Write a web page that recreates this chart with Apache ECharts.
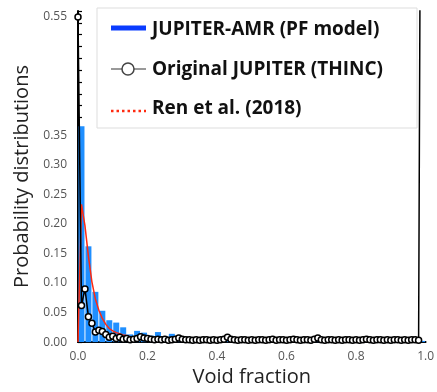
<!DOCTYPE html>
<html><head><meta charset="utf-8">
<script src="https://cdn.jsdelivr.net/npm/echarts@6/dist/echarts.min.js"></script>
<style>html,body{margin:0;padding:0;background:#fff}#c{width:437px;height:392px}</style>
</head><body><div id="c"></div>
<script>
// Blue histogram (JUPITER-AMR, PF model): bin centres and heights
const barX = [0.01,0.03,0.05,0.07,0.09,0.11,0.13,0.15,0.17,0.19,0.21,0.23,0.25,0.27,0.29,0.31,0.33,0.35,0.37,0.39,0.41,0.43,0.45,0.47,0.49,0.51,0.53,0.55,0.57,0.59,0.61,0.63,0.65,0.67,0.69,0.71,0.73,0.75,0.77,0.79,0.81,0.83,0.85,0.87,0.89,0.91,0.93,0.95,0.97,0.99];
const barY = [0.365,0.162,0.085,0.053,0.037,0.033,0.025,0.013,0.019,0.016,0.011,0.017,0.010,0.014,0.008,0.006,0.005,0.006,0.005,0.004,0.005,0.010,0.004,0.004,0.003,0.003,0.004,0.003,0.003,0.004,0.003,0.003,0.004,0.003,0.004,0.003,0.003,0.002,0.003,0.003,0.002,0.003,0.002,0.002,0.003,0.002,0.002,0.002,0.002,0.002];

// Original JUPITER (THINC)
const thincX = [0,0.01,0.02,0.03,0.04,0.05,0.06,0.07,0.08,0.09,0.10,0.11,0.12,0.13,0.14,0.15,0.16,0.17,0.18,0.19,0.20,0.21,0.22,0.23,0.24,0.25,0.26,0.27,0.28,0.29,0.30,0.31,0.32,0.33,0.34,0.35,0.36,0.37,0.38,0.39,0.40,0.41,0.42,0.43,0.44,0.45,0.46,0.47,0.48,0.49,0.50,0.51,0.52,0.53,0.54,0.55,0.56,0.57,0.58,0.59,0.60,0.61,0.62,0.63,0.64,0.65,0.66,0.67,0.68,0.69,0.70,0.71,0.72,0.73,0.74,0.75,0.76,0.77,0.78,0.79,0.80,0.81,0.82,0.83,0.84,0.85,0.86,0.87,0.88,0.89,0.90,0.91,0.92,0.93,0.94,0.95,0.96,0.97,0.98,0.984];
const thincY = [0.55,0.062,0.090,0.043,0.032,0.017,0.020,0.018,0.013,0.008,0.010,0.006,0.008,0.005,0.006,0.004,0.005,0.006,0.009,0.007,0.006,0.005,0.004,0.005,0.004,0.005,0.003,0.004,0.005,0.007,0.005,0.004,0.004,0.003,0.004,0.003,0.004,0.004,0.003,0.004,0.003,0.004,0.005,0.008,0.005,0.004,0.003,0.004,0.004,0.003,0.004,0.003,0.004,0.004,0.003,0.004,0.005,0.003,0.004,0.004,0.003,0.004,0.005,0.004,0.003,0.004,0.004,0.003,0.005,0.007,0.004,0.003,0.004,0.004,0.003,0.004,0.003,0.004,0.004,0.003,0.004,0.003,0.004,0.005,0.004,0.003,0.004,0.004,0.003,0.004,0.003,0.004,0.004,0.003,0.004,0.003,0.004,0.004,0.003,0.6];

// Ren et al. (2018)
const renX = [0,0.01,0.02,0.03,0.04,0.05,0.06,0.07,0.08,0.09,0.10,0.11,0.12,0.13,0.14,0.15,0.16,0.17];
const renY = [0,0.233,0.197,0.145,0.102,0.073,0.054,0.040,0.030,0.023,0.019,0.016,0.014,0.012,0.011,0.009,0.006,0.002];

const yLabelsShown = [0,0.05,0.10,0.15,0.20,0.25,0.30,0.35,0.55];
const xLabels = ['0.0','0.2','0.4','0.6','0.8','1.0'];

const zip = (a,b) => a.map((v,i)=>[v,b[i]]);

const chart = echarts.init(document.getElementById('c'), null, {renderer:'canvas'});
const axisFont = "'Open Sans', sans-serif";
const legFont = "bold 19px 'Open Sans', sans-serif";
chart.setOption({
  animation:false,
  backgroundColor:'#fff',
  grid:{left:78,right:3,top:11,bottom:45,containLabel:false},
  xAxis:{type:'value',min:0,max:1,interval:0.2,
    name:'Void fraction',nameLocation:'middle',nameGap:20,
    nameTextStyle:{fontSize:20,color:'#222',fontFamily:axisFont},
    axisLine:{show:true,lineStyle:{color:'#000',width:2}},
    axisTick:{show:false},splitLine:{show:false},
    axisLabel:{margin:8,fontSize:12,color:'#555',fontFamily:axisFont,
      formatter:v=>xLabels[Math.round(v/0.2)]}},
  yAxis:[{type:'value',min:0,max:0.56,interval:0.05,position:'left',
    name:'Probability distributions',nameLocation:'middle',nameGap:43,
    nameTextStyle:{fontSize:20,color:'#222',fontFamily:axisFont},
    axisLine:{show:true,lineStyle:{color:'#000',width:2}},
    axisTick:{show:false},splitLine:{show:false},
    axisLabel:{margin:11,fontSize:12,color:'#555',fontFamily:axisFont,
      formatter:v=>yLabelsShown.some(s=>Math.abs(s-v)<1e-6)?v.toFixed(2):''}},
   {type:'value',min:0,max:0.56,interval:0.02,position:'left',
    axisLine:{show:false},axisLabel:{show:false},splitLine:{show:false},
    axisTick:{show:true,inside:true,length:4,lineStyle:{color:'#000',width:1.2}}}],
  series:[
    {name:'JUPITER-AMR (PF model)',type:'bar',barWidth:6,data:zip(barX,barY),
      itemStyle:{color:'#1f8fff'},z:1},
    {name:'Ren et al. (2018)',type:'line',data:zip(renX,renY),symbol:'none',
      lineStyle:{color:'#ff2a10',width:1.5},z:2},
    {name:'Original JUPITER (THINC)',type:'line',data:zip(thincX,thincY),clip:true,
      symbol:'circle',symbolSize:6,showAllSymbol:true,
      lineStyle:{color:'#000',width:1.5},
      itemStyle:{color:'#fff',borderColor:'#000',borderWidth:1.5},z:3}
  ],
  graphic:[
    {type:'rect',z:100,shape:{x:97,y:8,width:320,height:120},
      style:{fill:'#fff',stroke:'#dddddd',lineWidth:1}},
    {type:'line',z:101,shape:{x1:111,y1:28,x2:146,y2:28},style:{stroke:'#0a3cff',lineWidth:5}},
    {type:'line',z:101,shape:{x1:111,y1:69,x2:146,y2:69},style:{stroke:'#777',lineWidth:1.5}},
    {type:'circle',z:102,shape:{cx:128,cy:69,r:6},style:{fill:'#fff',stroke:'#444',lineWidth:1.5}},
    {type:'line',z:101,shape:{x1:111,y1:111,x2:146,y2:111},style:{stroke:'#ff2a10',lineWidth:2.5,lineDash:[2.5,3]}},
    {type:'text',z:101,x:152,y:30,style:{text:'JUPITER-AMR (PF model)',fill:'#111',font:legFont,textVerticalAlign:'middle'}},
    {type:'text',z:101,x:152,y:70,style:{text:'Original JUPITER (THINC)',fill:'#111',font:legFont,textVerticalAlign:'middle'}},
    {type:'text',z:101,x:152,y:109,style:{text:'Ren et al. (2018)',fill:'#111',font:legFont,textVerticalAlign:'middle'}}
  ]
});
</script></body></html>
